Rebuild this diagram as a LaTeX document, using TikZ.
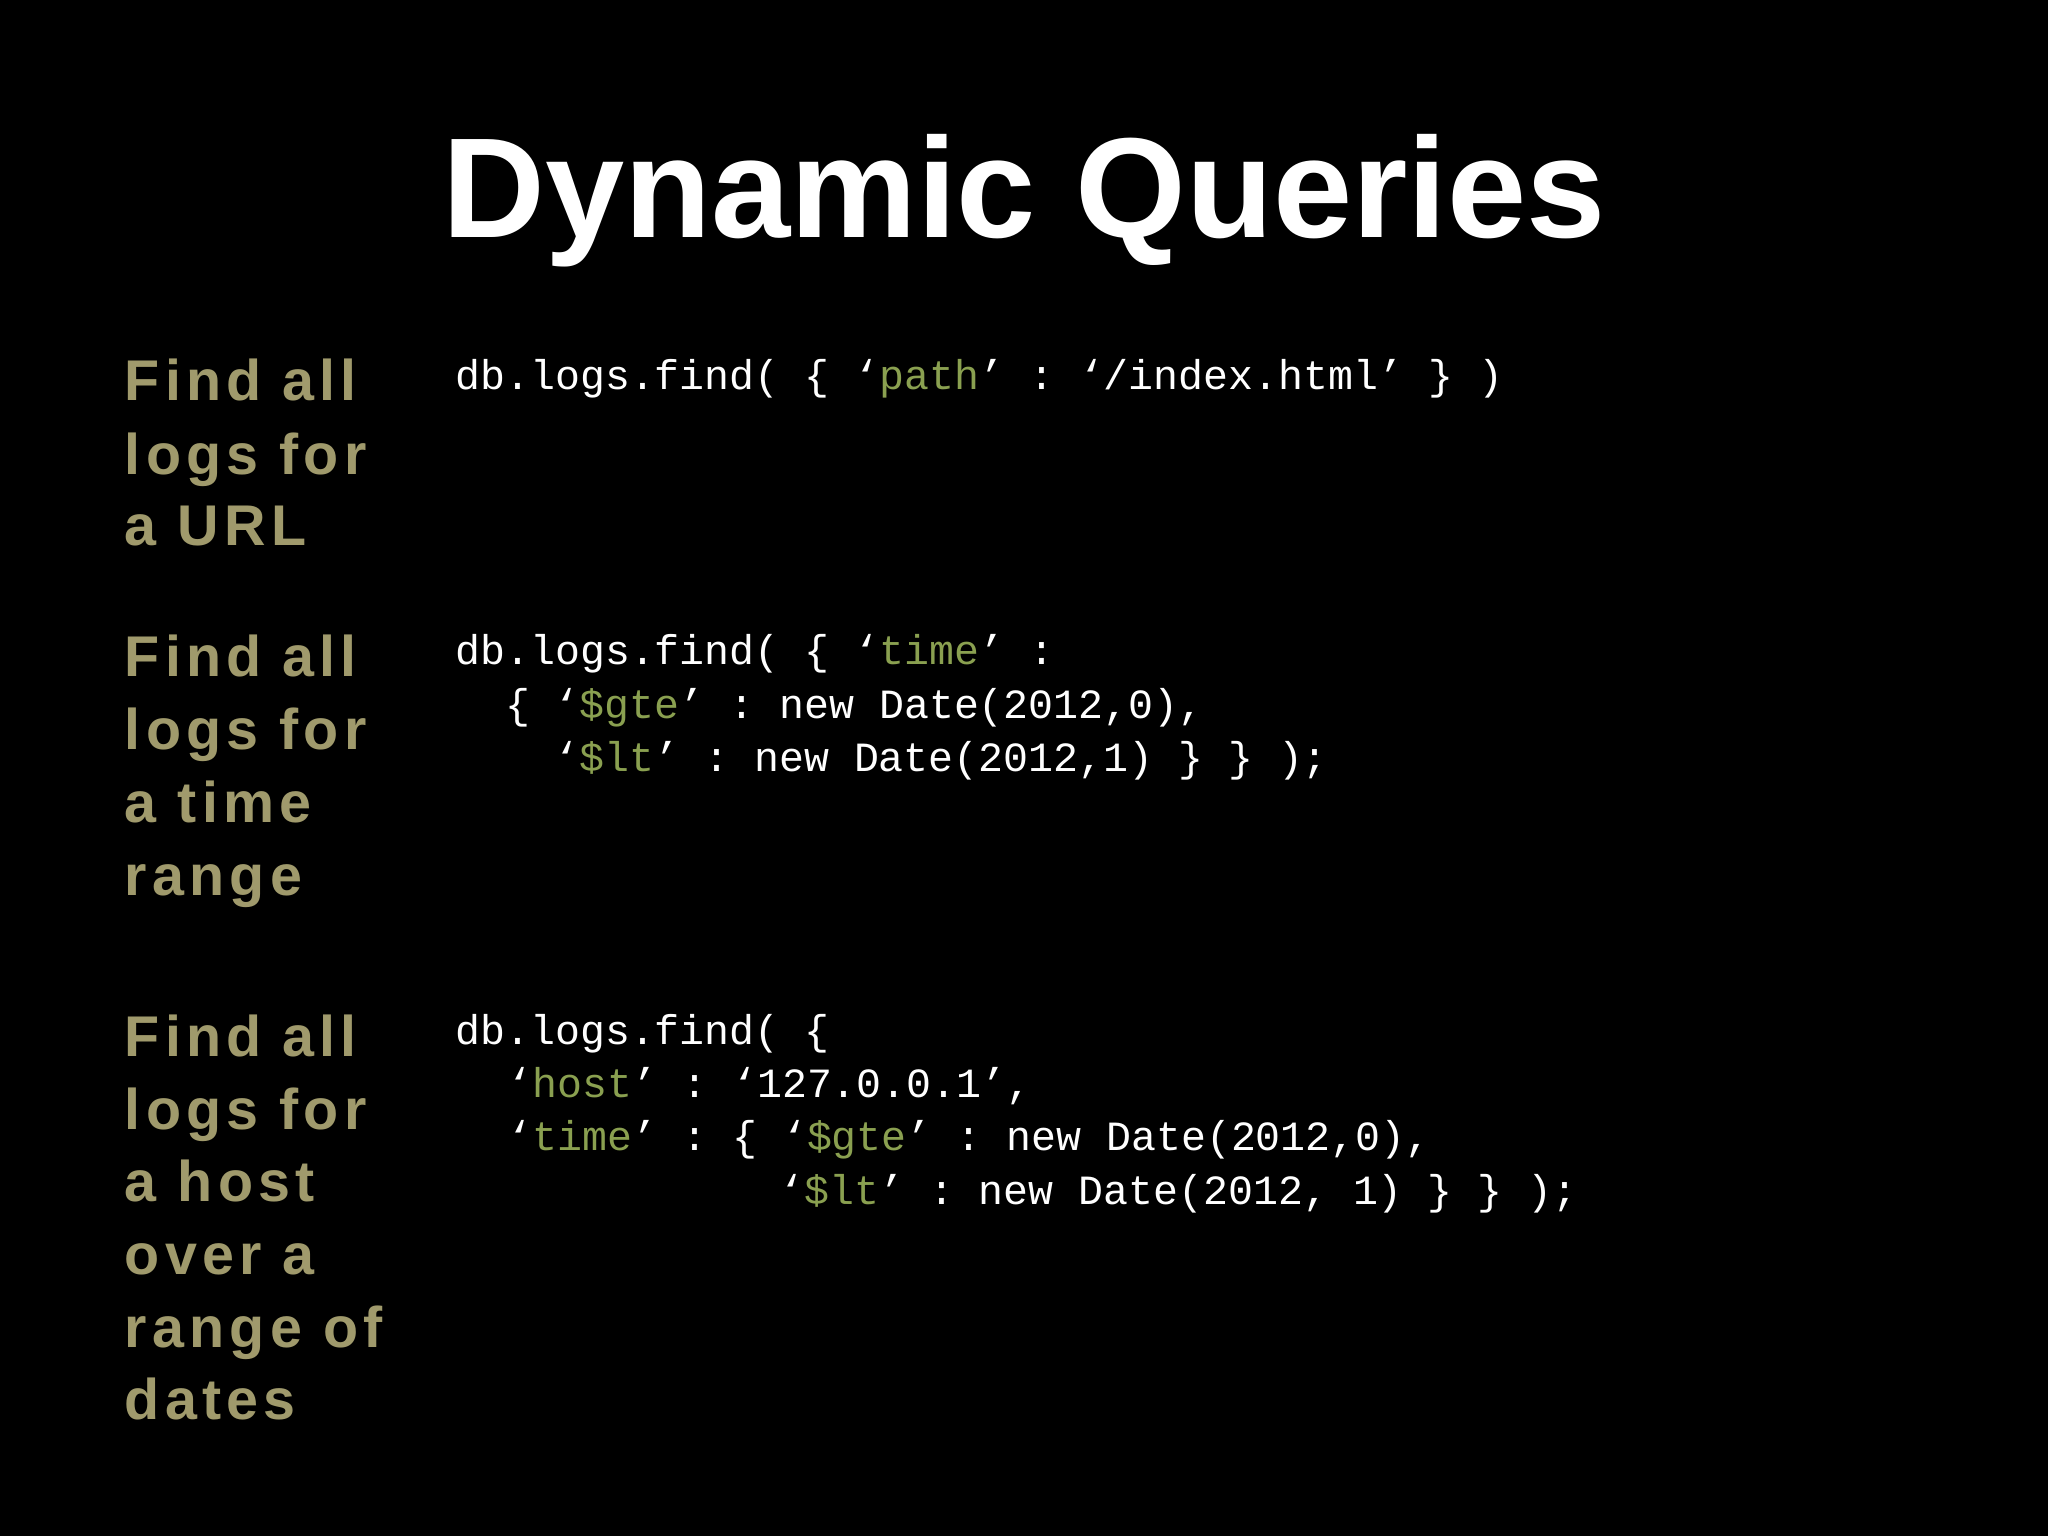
\documentclass[tikz,border=0pt]{standalone}
\usepackage{fontspec}
\setmainfont{Liberation Sans}
\setmonofont{Liberation Mono}
\newfontfamily\labelfont[LetterSpace=9]{Liberation Sans}
\definecolor{slidebg}{HTML}{000000}
\definecolor{olive}{HTML}{A09A6C}
\definecolor{keygreen}{HTML}{8AA050}
\newcommand{\kw}[1]{\textcolor{keygreen}{#1}}
\tikzset{
  title/.style={text=white, font=\fontsize{31}{36}\selectfont\bfseries, anchor=base},
  label/.style={text=olive, font=\labelfont\fontsize{12.5}{15}\selectfont\bfseries, anchor=base west, inner sep=0pt},
  code/.style={text=white, font=\fontsize{9.05}{11}\selectfont\ttfamily, anchor=base west, inner sep=0pt}
}
\begin{document}
\begin{tikzpicture}[x=0.01cm, y=-0.01cm]
  \fill[slidebg] (0,0) rectangle (1568,1176);
  \node (Title) [title] at (784,182) {Dynamic Queries};
  % labels
  \foreach \txt/\yy [count=\i] in {Find all/307, logs for/363, a URL/418,
      Find all/518, logs for/574, a time/630, range/686,
      Find all/809, logs for/865, a host/920, over a/976, range of/1032, dates/1087}
    \node (lab\i) [label] at (95,\yy) {\txt};
  % code blocks
  \node (url) [code] at (348,298) {db.logs.find( \{ ‘\kw{path}’ : ‘/index.html’ \} )};
  \node (timeA) [code] at (348,509) {db.logs.find( \{ ‘\kw{time}’ :};
  \node (timeB) [code] at (386,550) {\{ ‘\kw{\$gte}’ : new Date(2012,0),};
  \node (timeC) [code] at (424,591) {‘\kw{\$lt}’ : new Date(2012,1) \} \} );};
  \node (hostA) [code] at (348,800) {db.logs.find( \{};
  \node (hostB) [code] at (388,840) {‘\kw{host}’ : ‘127.0.0.1’,};
  \node (hostC) [code] at (388,881) {‘\kw{time}’ : \{ ‘\kw{\$gte}’ : new Date(2012,0),};
  \node (hostD) [code] at (596,922) {‘\kw{\$lt}’ : new Date(2012, 1) \} \} );};
\end{tikzpicture}
\end{document}
